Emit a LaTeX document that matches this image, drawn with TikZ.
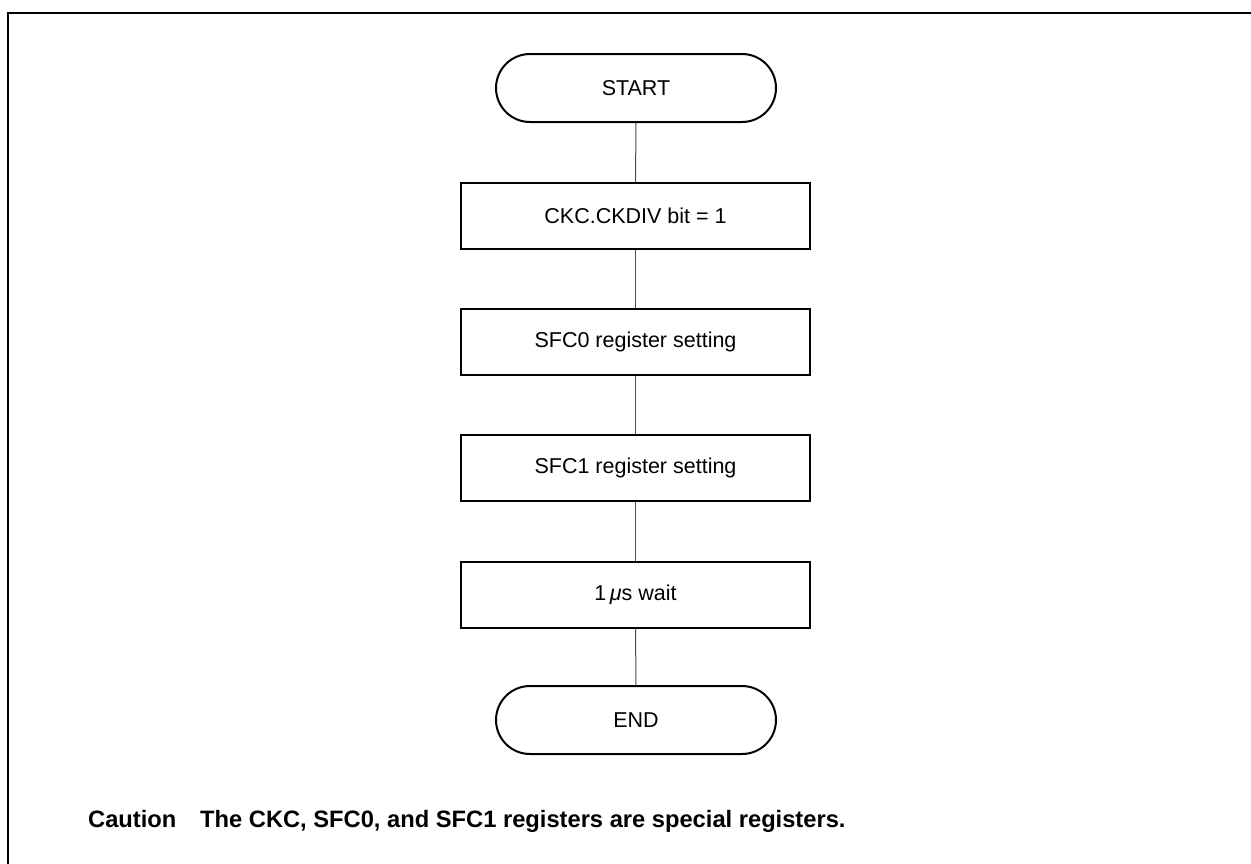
\documentclass[tikz,border=0pt]{standalone}
\usepackage{fontspec}
\setmainfont{Liberation Sans}
\begin{document}
\begin{tikzpicture}[x=1pt,y=-1pt,
  term/.style={draw,line width=2pt,rounded corners=34pt,minimum width=280pt,minimum height=68pt,inner sep=0pt,font=\fontsize{21.5}{25}\selectfont},
  proc/.style={draw,line width=2pt,minimum width=349pt,minimum height=66pt,inner sep=0pt,font=\fontsize{21.5}{25}\selectfont},
  conn/.style={draw=black!70,line width=1pt},
  captxt/.style={anchor=base west,inner sep=0pt,font=\fontsize{23.7}{28}\selectfont\bfseries}]
\useasboundingbox (0,0) rectangle (1251,863);
\begin{scope}
\clip (0,0) rectangle (1251,863);
\draw[line width=2.5pt] (8,880) -- (8,13) -- (1270,13);
\end{scope}
\node[term] (start) at (636,88) {START};
\node[proc] (b1) at (635.5,216) {CKC.CKDIV bit = 1};
\node[proc] (b2) at (635.5,342) {SFC0 register setting};
\node[proc] (b3) at (635.5,468) {SFC1 register setting};
\node[proc] (b4) at (635.5,594.5) {1\,{\itshape μ}s wait};
\node[term] (end) at (636,720) {END};
\draw[conn] (start) -- (b1);
\draw[conn] (b1) -- (b2);
\draw[conn] (b2) -- (b3);
\draw[conn] (b3) -- (b4);
\draw[conn] (b4) -- (end);
\node[captxt] (cap) at (88,827) {Caution};
\node[captxt] (captext) at (200,827) {The CKC, SFC0, and SFC1 registers are special registers.};
\end{tikzpicture}
\end{document}
